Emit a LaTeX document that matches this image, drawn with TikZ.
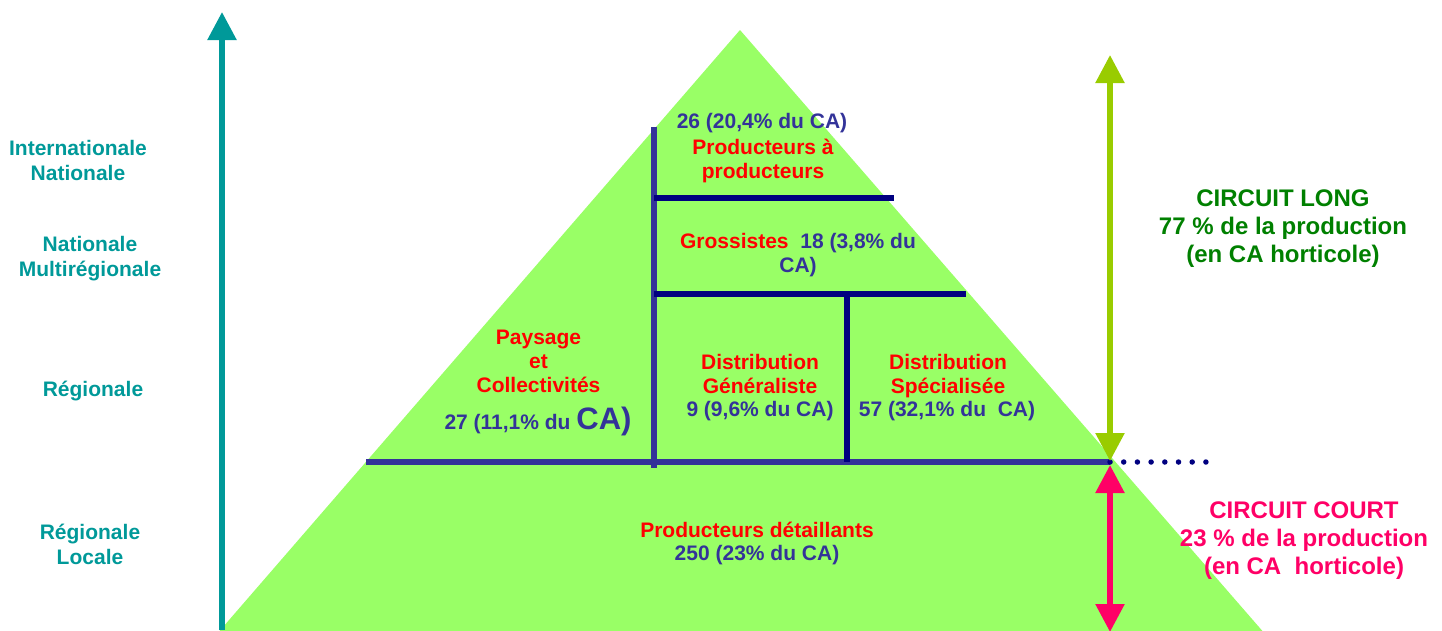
\documentclass[tikz,border=0pt]{standalone}
\usepackage{fontspec}
\setmainfont{Liberation Sans}
\usetikzlibrary{arrows.meta}

\definecolor{pyramide}{RGB}{153,255,102}
\definecolor{bleutrait}{RGB}{51,51,153}
\definecolor{marine}{RGB}{0,0,128}
\definecolor{sarcelle}{RGB}{0,153,153}
\definecolor{rougetxt}{RGB}{255,0,0}
\definecolor{bleutxt}{RGB}{51,51,153}
\definecolor{vertlong}{RGB}{0,128,0}
\definecolor{citron}{RGB}{153,204,0}
\definecolor{rosecourt}{RGB}{255,0,102}

\tikzset{
  niveau/.style  = {text = sarcelle, font = \bfseries\fontsize{21}{25}\selectfont, align = center, inner sep = 0pt},
  canal/.style   = {text = rougetxt, font = \bfseries\fontsize{21}{24}\selectfont, align = center, inner sep = 0pt},
  chiffre/.style = {text = bleutxt, font = \bfseries\fontsize{21}{24}\selectfont, align = center, inner sep = 0pt},
  circuit/.style = {font = \bfseries\fontsize{24}{28}\selectfont, align = center, inner sep = 0pt},
  trait/.style   = {line width = 6pt},
  pointe/.style  = {line width = 5.5pt, arrows = {-Triangle[width = 28pt, length = 28pt]}},
}

\begin{document}
\begin{tikzpicture}[x = 1pt, y = -1pt]
					\def\base{630};
					\def\sol{462};
					\def\axe{1110};

					\useasboundingbox (0,0) rectangle (1442,\base);

					% pyramide
					\fill [pyramide] (740,30) -- (1272,642) -- (210,642) -- cycle;

					% cloisons
					\begin{scope}[trait]
						\draw [bleutrait] (366,\sol) -- (\axe,\sol);
						\draw [bleutrait] (654,127) -- (654,468);
						\draw [marine] (654,198) -- (894,198);
						\draw [marine] (654,294) -- (966,294);
						\draw [marine] (847,294) -- (847,\sol);
					\end{scope}
					\draw [marine, line width = 5.5pt, line cap = round, dash pattern = on 0pt off 13.7pt] (\axe,\sol) -- (1212,\sol);

					% fleches
					\coordinate (bas) at (222,\base);
					\coordinate (haut) at (222,12);
					\coordinate (longhaut) at (\axe,55);
					\coordinate (longbas) at (\axe,461);
					\coordinate (courthaut) at (\axe,465);
					\coordinate (courtbas) at (\axe,632);
					\draw [pointe, sarcelle] (bas) -- (haut);
					\draw [pointe, citron, arrows = {Triangle[width = 28pt, length = 28pt]-Triangle[width = 28pt, length = 28pt]}] (longbas) -- (longhaut);
					\draw [pointe, rosecourt, arrows = {Triangle[width = 28pt, length = 28pt]-Triangle[width = 28pt, length = 28pt]}] (courthaut) -- (courtbas);

					% niveaux
					\node [niveau] (inter) at (78,160.5) {Internationale\\Nationale};
					\node [niveau] (multi) at (90,258.5) {Nationale\\Multirégionale};
					\node [niveau] (region) at (93,391) {Régionale};
					\node [niveau] (locale) at (90,544.5) {Régionale\\Locale};

					% canaux
					\node [chiffre] (prodprodCA) at (762,123.5) {26 (20,4\% du CA)};
					\node [canal] (prodprod) at (763,160.5) {Producteurs à\\producteurs};
					\node [chiffre] (grossistes) at (798,255) {\textcolor{rougetxt}{Grossistes}\ \ 18 (3,8\% du\\CA)};
					\node [canal] (paysage) at (538.5,361.5) {Paysage\\et\\Collectivités};
					\node [chiffre] (paysageCA) at (538,421) {27 (11,1\% du {\fontsize{31}{32}\selectfont CA)}};
					\node [canal] (generaliste) at (760,373.5) {Distribution\\Généraliste};
					\node [chiffre] (generalisteCA) at (760,411) {9 (9,6\% du CA)};
					\node [canal] (specialisee) at (948,376) {Distribution\\Spécialisée};
					\node [chiffre] (specialiseeCA) at (947,411) {57 (32,1\% du\ \ CA)};
					\node [canal] (detaillants) at (757,530) {Producteurs détaillants};
					\node [chiffre] (detaillantsCA) at (757,555) {250 (23\% du CA)};

					% circuits
					\node [circuit, text = vertlong] (long) at (1283,228.5) {CIRCUIT LONG\\77 \% de la production\\(en CA horticole)};
					\node [circuit, text = rosecourt] (court) at (1304,541) {CIRCUIT COURT\\23 \% de la production\\(en CA\ \ horticole)};
				\end{tikzpicture}
\end{document}
